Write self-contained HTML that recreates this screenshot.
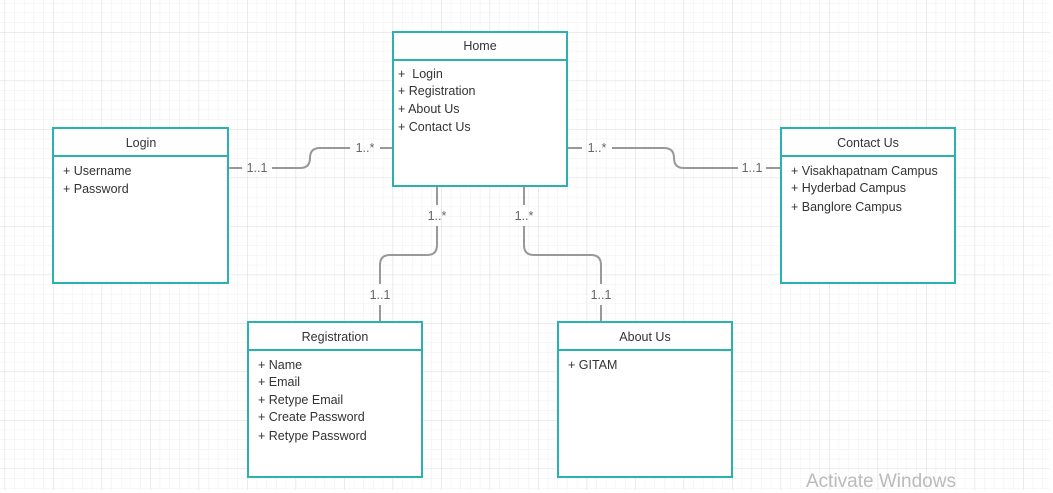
<!DOCTYPE html>
<html><head><meta charset="utf-8"><style>
html,body{margin:0;padding:0;background:#fff;}
svg{display:block;}
text{font-family:"Liberation Sans",sans-serif;font-size:12.5px;fill:#333;}
.lbl{fill:#666;font-size:12.5px;}
</style></head><body>
<svg width="1053" height="493" viewBox="0 0 1053 493" xmlns="http://www.w3.org/2000/svg">
<defs>
<pattern id="minor" x="4.5" y="32" width="9.7" height="9.7" patternUnits="userSpaceOnUse">
<path d="M0 0H9.7M0 0V9.7" stroke="#eeeeee" stroke-width="1" fill="none"/>
</pattern>
<pattern id="major" x="4.5" y="32" width="48.5" height="48.5" patternUnits="userSpaceOnUse">
<path d="M0 0H48.5M0 0V48.5" stroke="#e0e0e0" stroke-width="1.3" fill="none"/>
</pattern>
</defs>
<rect x="0" y="0" width="1050" height="490" fill="url(#minor)"/>
<rect x="0" y="0" width="1050" height="490" fill="url(#major)"/>

<g stroke="#999" stroke-width="2" fill="none">
<path d="M228 168H242M272 168H300Q310 168 310 158Q310 148 320 148H350M380 148H393"/>
<path d="M567 148H582M612 148H664Q674 148 674 158Q674 168 684 168H738M766 168H781"/>
<path d="M437 186V205M437 226V245Q437 255 427 255H390Q380 255 380 265V284M380 305V322"/>
<path d="M524 186V205M524 226V245Q524 255 534 255H591Q601 255 601 265V284M601 305V322"/>
</g>
<g class="lbl">
<text x="257" y="172" text-anchor="middle" class="lbl">1..1</text>
<text x="365" y="152" text-anchor="middle" class="lbl">1..*</text>
<text x="597" y="152" text-anchor="middle" class="lbl">1..*</text>
<text x="752" y="172" text-anchor="middle" class="lbl">1..1</text>
<text x="437" y="220" text-anchor="middle" class="lbl">1..*</text>
<text x="524" y="220" text-anchor="middle" class="lbl">1..*</text>
<text x="380" y="299" text-anchor="middle" class="lbl">1..1</text>
<text x="601" y="299" text-anchor="middle" class="lbl">1..1</text>
</g>

<g stroke="#2ab3ae" stroke-width="2" fill="#fff">
<rect x="393" y="32" width="174" height="154"/><line x1="393" y1="60" x2="567" y2="60"/>
<rect x="53" y="128" width="175" height="155"/><line x1="53" y1="156" x2="228" y2="156"/>
<rect x="781" y="128" width="174" height="155"/><line x1="781" y1="156" x2="955" y2="156"/>
<rect x="248" y="322" width="174" height="155"/><line x1="248" y1="350" x2="422" y2="350"/>
<rect x="558" y="322" width="174" height="155"/><line x1="558" y1="350" x2="732" y2="350"/>
</g>

<text x="480" y="50" text-anchor="middle">Home</text>
<text x="398" y="78" xml:space="preserve">+  Login</text>
<text x="398" y="95">+ Registration</text>
<text x="398" y="113">+ About Us</text>
<text x="398" y="131">+ Contact Us</text>

<text x="141" y="147" text-anchor="middle">Login</text>
<text x="63" y="175">+ Username</text>
<text x="63" y="193">+ Password</text>

<text x="868" y="147" text-anchor="middle">Contact Us</text>
<text x="791" y="175">+ Visakhapatnam Campus</text>
<text x="791" y="192">+ Hyderbad Campus</text>
<text x="791" y="211">+ Banglore Campus</text>

<text x="335" y="341" text-anchor="middle">Registration</text>
<text x="258" y="369">+ Name</text>
<text x="258" y="386">+ Email</text>
<text x="258" y="404">+ Retype Email</text>
<text x="258" y="421">+ Create Password</text>
<text x="258" y="440">+ Retype Password</text>

<text x="645" y="341" text-anchor="middle">About Us</text>
<text x="568" y="369">+ GITAM</text>

<text x="806" y="487" style="font-size:19px;fill:#bbb;">Activate Windows</text>
</svg>
</body></html>
